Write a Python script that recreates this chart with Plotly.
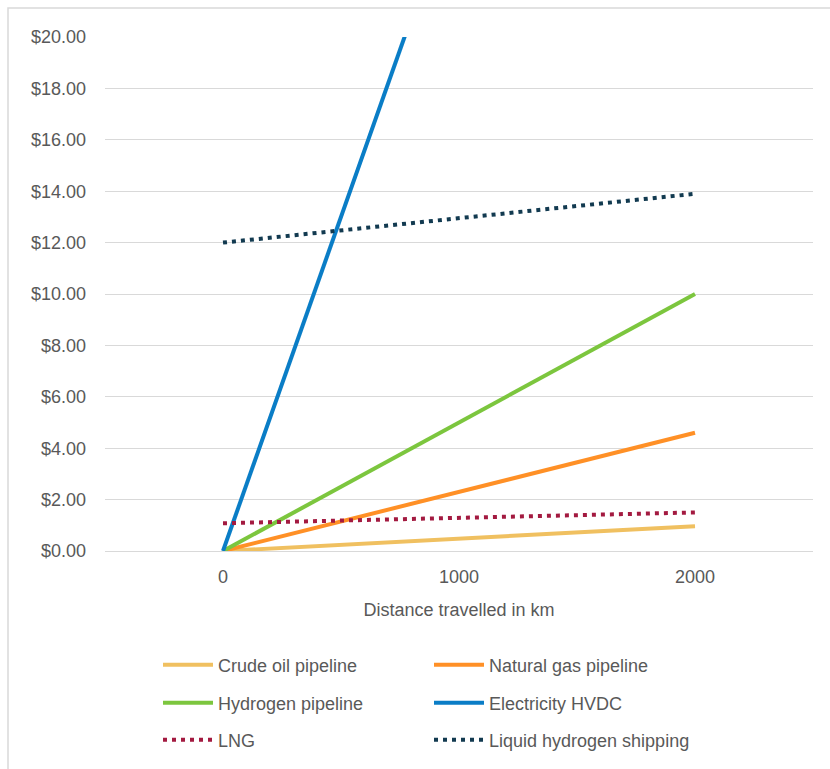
import plotly.graph_objects as go

# Transport cost by distance (USD, per unit of energy)
distance_km = [0, 1000, 2000]
crude_oil = [0.0, 0.48, 0.96]
natural_gas = [0.0, 2.3, 4.6]
hydrogen_pipe = [0.0, 5.0, 10.0]
electricity_hvdc = [0.0, 26.0, 52.0]
lng = [1.08, 1.29, 1.50]
liquid_h2 = [12.0, 12.95, 13.9]

series = [
    ("Crude oil pipeline", crude_oil, "#F0C060", "solid", "legend"),
    ("Natural gas pipeline", natural_gas, "#FF9026", "solid", "legend"),
    ("Hydrogen pipeline", hydrogen_pipe, "#7CC63E", "solid", "legend2"),
    ("Electricity HVDC", electricity_hvdc, "#0A7DC6", "solid", "legend2"),
    ("LNG", lng, "#A31A40", "4px,5px", "legend3"),
    ("Liquid hydrogen shipping", liquid_h2, "#123A50", "4px,5px", "legend3"),
]

FONT = "Liberation Sans, Arial, sans-serif"
GREY = "#595959"

fig = go.Figure()
for name, vals, color, dash, lg in series:
    fig.add_trace(go.Scatter(
        x=distance_km, y=vals, name=name, mode="lines",
        line=dict(color=color, width=4, dash=dash),
        legend=lg,
    ))

legend_common = dict(
    orientation="h", xref="paper", yref="paper", xanchor="left", yanchor="middle",
    font=dict(family=FONT, size=18, color=GREY), entrywidth=206,
    bgcolor="rgba(0,0,0,0)", itemwidth=50,
)

PLOT_L, PLOT_R, PLOT_T, PLOT_B = 105, 813, 37, 552
W, H = 830, 769
pw, ph = PLOT_R - PLOT_L, PLOT_B - PLOT_T


def px_to_paper_x(px):
    return (px - PLOT_L) / pw


def px_to_paper_y(py):
    return (PLOT_B - py) / ph


fig.update_layout(
    width=W, height=H,
    margin=dict(l=PLOT_L, r=W - PLOT_R, t=PLOT_T, b=H - PLOT_B),
    paper_bgcolor="white", plot_bgcolor="white",
    font=dict(family=FONT, size=18, color=GREY),
    showlegend=True,
    legend=dict(legend_common, x=px_to_paper_x(158), y=px_to_paper_y(665)),
    legend2=dict(legend_common, x=px_to_paper_x(158), y=px_to_paper_y(703)),
    legend3=dict(legend_common, x=px_to_paper_x(158), y=px_to_paper_y(740)),
    xaxis=dict(
        range=[-500, 2500], tickvals=distance_km, ticktext=[str(d) for d in distance_km],
        showgrid=False, zeroline=False, showline=False, ticks="",
        ticklabelstandoff=13,
        tickfont=dict(family=FONT, size=18, color=GREY),
        title=dict(text="Distance travelled in km", standoff=17,
                   font=dict(family=FONT, size=18, color=GREY)),
    ),
    yaxis=dict(
        range=[0, 20], dtick=2, tickformat="$.2f",
        showgrid=True, gridcolor="#D9D9D9", gridwidth=1,
        zeroline=True, zerolinecolor="#D9D9D9", zerolinewidth=1,
        showline=False, ticks="", ticklabelstandoff=18,
        tickfont=dict(family=FONT, size=18, color=GREY),
    ),
    shapes=[dict(
        type="rect", xref="paper", yref="paper", layer="below",
        x0=px_to_paper_x(8), x1=px_to_paper_x(900),
        y0=px_to_paper_y(900), y1=px_to_paper_y(8),
        line=dict(color="#D9D9D9", width=1.5), fillcolor="rgba(0,0,0,0)",
    )],
)

fig.write_html("out.html")
